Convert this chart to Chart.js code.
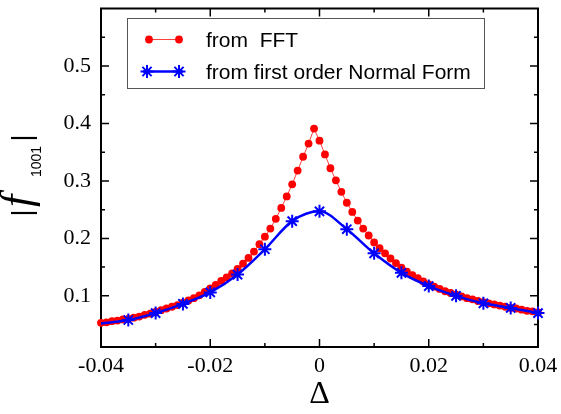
<!DOCTYPE html>
<html>
<head>
<meta charset="utf-8">
<script src="https://cdn.jsdelivr.net/npm/chart.js@4.4.0/dist/chart.umd.min.js"></script>
<style>
  html, body { margin: 0; padding: 0; background: #fff; }
</style>
</head>
<body>
<canvas id="chart" width="561" height="414"></canvas>
<script>
// FFT result, one point every 0.001 in Delta
const fftDelta = [
  -0.040, -0.039, -0.038, -0.037, -0.036, -0.035, -0.034, -0.033, -0.032, -0.031,
  -0.030, -0.029, -0.028, -0.027, -0.026, -0.025, -0.024, -0.023, -0.022, -0.021,
  -0.020, -0.019, -0.018, -0.017, -0.016, -0.015, -0.014, -0.013, -0.012, -0.011,
  -0.010, -0.009, -0.008, -0.007, -0.006, -0.005, -0.004, -0.003, -0.002, -0.001,
  0.000, 0.001, 0.002, 0.003, 0.004, 0.005, 0.006, 0.007, 0.008, 0.009,
  0.010, 0.011, 0.012, 0.013, 0.014, 0.015, 0.016, 0.017, 0.018, 0.019,
  0.020, 0.021, 0.022, 0.023, 0.024, 0.025, 0.026, 0.027, 0.028, 0.029,
  0.030, 0.031, 0.032, 0.033, 0.034, 0.035, 0.036, 0.037, 0.038, 0.039,
  0.040
];
const fftValues = [
  0.053, 0.054, 0.056, 0.057, 0.059, 0.060, 0.062, 0.064, 0.067, 0.069,
  0.072, 0.075, 0.078, 0.081, 0.084, 0.088, 0.092, 0.096, 0.101, 0.107,
  0.113, 0.119, 0.126, 0.132, 0.139, 0.147, 0.156, 0.166, 0.177, 0.190,
  0.203, 0.217, 0.234, 0.253, 0.273, 0.294, 0.318, 0.342, 0.365, 0.391,
  0.370, 0.346, 0.322, 0.301, 0.281, 0.262, 0.246, 0.231, 0.217, 0.205,
  0.193, 0.183, 0.174, 0.165, 0.157, 0.149, 0.142, 0.136, 0.131, 0.125,
  0.120, 0.116, 0.112, 0.108, 0.105, 0.102, 0.099, 0.096, 0.094, 0.091,
  0.089, 0.087, 0.085, 0.083, 0.081, 0.079, 0.078, 0.076, 0.074, 0.073,
  0.071
];

// first order Normal Form (first point is the curve start, no star)
const nfDelta = [
  -0.040, -0.035, -0.030, -0.025, -0.020, -0.015, -0.010, -0.005,
  0.000, 0.005, 0.010, 0.015, 0.020, 0.025, 0.030, 0.035, 0.040
];
const nfValues = [
  0.052, 0.058, 0.070, 0.086, 0.106, 0.137, 0.181, 0.230,
  0.247, 0.216, 0.174, 0.140, 0.117, 0.100, 0.087, 0.079, 0.070
];

const xTicks = [-0.04, -0.02, 0, 0.02, 0.04];
const xMinorTicks = [-0.03, -0.01, 0.01, 0.03];
const yTicks = [0.1, 0.2, 0.3, 0.4, 0.5];
const yMinorTicks = [0.05, 0.15, 0.25, 0.35, 0.45, 0.55];

const legendLabels = ['from  FFT', 'from first order Normal Form'];

const RED = '#ff0000';
const BLUE = '#0000ff';
const tickFont = { family: 'Liberation Serif', size: 22 };

function toPoints(xs, ys) {
  return xs.map((v, i) => ({ x: v, y: ys[i] }));
}

// no extra room for edge labels, the layout padding handles it
function noPad(s) {
  s.paddingTop = 0;
  s.paddingBottom = 0;
  s.paddingLeft = 0;
  s.paddingRight = 0;
}

// inward tick marks on all four sides + black frame
const frameAndTicks = {
  id: 'frameAndTicks',
  beforeDatasetsDraw(chart) {
    const { ctx, chartArea: a, scales: { x, y } } = chart;
    ctx.save();
    ctx.strokeStyle = '#000';
    ctx.lineWidth = 1.5;
    ctx.beginPath();
    const xMark = (v, len) => {
      const px = x.getPixelForValue(v);
      ctx.moveTo(px, a.bottom); ctx.lineTo(px, a.bottom - len);
      ctx.moveTo(px, a.top); ctx.lineTo(px, a.top + len);
    };
    const yMark = (v, len) => {
      const py = y.getPixelForValue(v);
      ctx.moveTo(a.left, py); ctx.lineTo(a.left + len, py);
      ctx.moveTo(a.right, py); ctx.lineTo(a.right - len, py);
    };
    xTicks.forEach(v => xMark(v, 8));
    xMinorTicks.forEach(v => xMark(v, 4));
    yTicks.forEach(v => yMark(v, 8));
    yMinorTicks.forEach(v => yMark(v, 4));
    ctx.stroke();
    ctx.lineWidth = 2;
    ctx.strokeRect(a.left, a.top, a.right - a.left, a.bottom - a.top);
    ctx.restore();
  }
};

// y title "| f_1001 |" rotated
const yTitle = {
  id: 'yTitle',
  afterDraw(chart) {
    const ctx = chart.ctx;
    ctx.save();
    ctx.translate(31, 175);
    ctx.rotate(-Math.PI / 2);
    ctx.fillStyle = '#000';
    ctx.textBaseline = 'alphabetic';
    ctx.textAlign = 'center';
    ctx.font = '27px "Liberation Sans"';
    ctx.fillText('|', -38, 0);
    ctx.fillText('|', 37, 0);
    ctx.textAlign = 'left';
    ctx.font = 'italic 44px "Liberation Serif"';
    ctx.fillText('f', -32, 0);
    ctx.font = '14px "Liberation Sans"';
    ctx.fillText('1001', -2, 10);
    ctx.restore();
  }
};

// legend box with line + two markers per entry
const boxLegend = {
  id: 'boxLegend',
  afterDraw(chart) {
    const ctx = chart.ctx;
    ctx.save();
    ctx.fillStyle = '#fff';
    ctx.fillRect(127.5, 18.5, 357, 70);
    ctx.strokeStyle = '#555';
    ctx.lineWidth = 1;
    ctx.strokeRect(127.5, 18.5, 357, 70);

    ctx.strokeStyle = '#ff4040';
    ctx.lineWidth = 1;
    ctx.beginPath(); ctx.moveTo(149, 39.5); ctx.lineTo(179, 39.5); ctx.stroke();
    ctx.fillStyle = RED;
    [149, 179].forEach(px => { ctx.beginPath(); ctx.arc(px, 39.5, 3.9, 0, Math.PI * 2); ctx.fill(); });

    ctx.strokeStyle = BLUE;
    ctx.lineWidth = 2.5;
    ctx.beginPath(); ctx.moveTo(143, 71.5); ctx.lineTo(183, 71.5); ctx.stroke();
    ctx.lineWidth = 2;
    [147, 179].forEach(px => {
      Chart.helpers.drawPoint(ctx, { pointStyle: 'star', radius: 6.5, borderWidth: 2, rotation: 0 }, px, 71.5);
    });

    ctx.fillStyle = '#000';
    ctx.font = '21px "Liberation Sans"';
    ctx.textBaseline = 'alphabetic';
    ctx.fillText(legendLabels[0], 206, 47);
    ctx.fillText(legendLabels[1], 206, 79);
    ctx.restore();
  }
};

new Chart(document.getElementById('chart'), {
  type: 'line',
  data: {
    datasets: [{
      label: legendLabels[0],
      data: toPoints(fftDelta, fftValues),
      borderColor: '#ff4040',
      borderWidth: 1,
      backgroundColor: RED,
      pointBackgroundColor: RED,
      pointBorderWidth: 0,
      pointRadius: 3.9,
      pointStyle: 'circle',
      tension: 0,
      clip: false,
      order: 2
    }, {
      label: legendLabels[1],
      data: toPoints(nfDelta, nfValues),
      borderColor: BLUE,
      borderWidth: 2.5,
      pointBorderColor: BLUE,
      pointBackgroundColor: BLUE,
      pointBorderWidth: 2,
      pointStyle: 'star',
      pointRadius: ctx => (ctx.dataIndex === 0 ? 0 : 6.5),
      cubicInterpolationMode: 'monotone',
      clip: false,
      order: 1
    }]
  },
  options: {
    responsive: false,
    animation: false,
    layout: { padding: { top: 8, right: 23, left: 0, bottom: 0 } },
    plugins: { legend: { display: false }, tooltip: { enabled: false } },
    scales: {
      x: {
        type: 'linear',
        min: -0.04,
        max: 0.04,
        afterBuildTicks: s => { s.ticks = xTicks.map(v => ({ value: v })); },
        afterFit: s => { s.height = 67; noPad(s); },
        grid: { display: false, drawTicks: false },
        border: { display: false },
        ticks: {
          color: '#000',
          font: tickFont,
          padding: 6,
          maxRotation: 0,
          autoSkip: false,
          callback: v => (v === 0 ? '0' : String(v))
        },
        title: {
          display: true,
          text: 'Δ',
          color: '#000',
          font: { family: 'Liberation Serif', size: 32 },
          padding: 0
        }
      },
      y: {
        type: 'linear',
        min: 0.011,
        max: 0.6,
        afterBuildTicks: s => { s.ticks = yTicks.map(v => ({ value: v })); },
        afterFit: s => { s.width = 101; noPad(s); },
        grid: { display: false, drawTicks: false },
        border: { display: false },
        ticks: {
          color: '#000',
          font: tickFont,
          padding: 10,
          callback: v => v.toFixed(1)
        }
      }
    }
  },
  plugins: [frameAndTicks, yTitle, boxLegend]
});
</script>
</body>
</html>
